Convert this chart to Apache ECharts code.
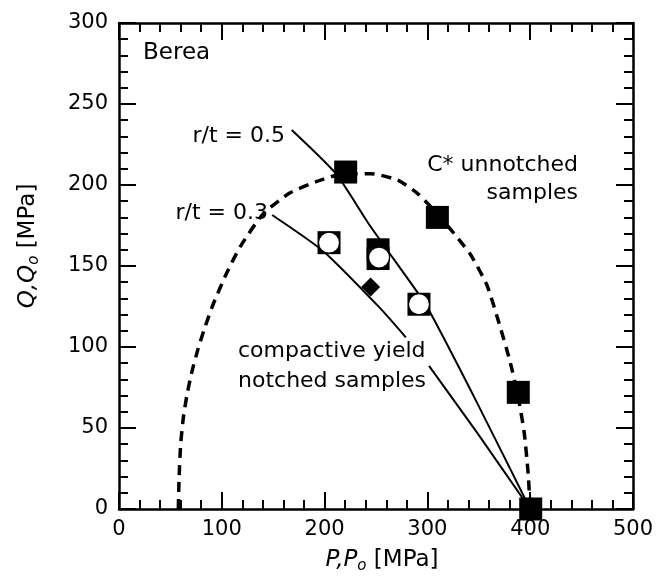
<!DOCTYPE html>
<html>
<head>
<meta charset="utf-8">
<script src="https://cdn.jsdelivr.net/npm/echarts@6/dist/echarts.min.js"></script>
<style>
  html, body { margin: 0; padding: 0; background: #fff; }
  #main { width: 668px; height: 582px; }
</style>
</head>
<body>
<div id="main"></div>
<script>
// C* envelope for unnotched samples (dashed)
var cStarCurve = [
  [57.7, 0], [58.5, 20], [60, 40], [62.5, 56], [66, 70], [71, 85],
  [77, 99], [84, 113], [92, 127], [105, 146], [118, 162], [140, 182],
  [166, 195], [196, 203], [220, 207], [245, 207], [271, 203], [290, 195],
  [310, 182], [326, 170], [342, 157], [358, 138], [370, 114], [380, 92],
  [388, 70], [394, 48], [398, 22], [400, 0]
];
// compactive yield lines, notched samples
var rt05Line = [[168, 234], [211, 207], [244, 175], [290, 134], [303, 121], [348, 66], [400, 0]];
var rt03Upper = [[149, 181.5], [199, 159], [254, 124], [279, 106]];
var rt03Lower = [[301.6, 88.3], [348.5, 47], [400, 0]];

// data points
var unnotched = [[220.5, 208], [309.7, 180], [388.4, 72], [400.5, 0]];
var notchedSquares = [[204.3, 164.4], [252, 160], [252, 154.6], [291.8, 126.4]];
var notchedCircles = [[204.3, 164.4], [253, 155.2], [291.8, 126.4]];
var diamondPts = [[244.8, 137]];

var xTicks = [0, 100, 200, 300, 400, 500];
var yTicks = [0, 50, 100, 150, 200, 250, 300];

var FONT = 'DejaVu Sans';
var myChart = echarts.init(document.getElementById('main'));

function makeAxis(type, pos, ticks, showLabel) {
  return {
    type: 'value',
    position: pos,
    min: ticks[0],
    max: ticks[ticks.length - 1],
    interval: ticks[1] - ticks[0],
    axisLine: { show: true, onZero: false, lineStyle: { color: '#000', width: 2.5 } },
    axisTick: { show: true, inside: true, length: 17, lineStyle: { color: '#000', width: 2 } },
    minorTick: { show: true, splitNumber: 5, length: 9, lineStyle: { color: '#000', width: 2 } },
    splitLine: { show: false },
    minorSplitLine: { show: false },
    axisLabel: {
      show: showLabel,
      color: '#000',
      fontFamily: FONT,
      fontSize: 21,
      margin: type === 'x' ? 10 : 11
    }
  };
}

var subRich = {
  i: { fontFamily: FONT, fontSize: 23, fontStyle: 'italic', color: '#000', lineHeight: 28 },
  s: { fontFamily: FONT, fontSize: 15, fontStyle: 'italic', color: '#000', lineHeight: 15, verticalAlign: 'bottom' },
  n: { fontFamily: FONT, fontSize: 23, color: '#000', lineHeight: 28 }
};

function note(text, x, y, align, size) {
  return {
    type: 'text',
    x: x,
    y: y,
    z: 100,
    style: {
      text: text,
      fill: '#000',
      font: (size || 22) + 'px "' + FONT + '"',
      align: align,
      verticalAlign: 'middle'
    }
  };
}

var option = {
  animation: false,
  backgroundColor: '#fff',
  grid: {
    left: 119, right: 35, top: 23, bottom: 73,
    containLabel: false,
    outerBoundsMode: 'none'
  },
  xAxis: [makeAxis('x', 'bottom', xTicks, true), makeAxis('x', 'top', xTicks, false)],
  yAxis: [makeAxis('y', 'left', yTicks, true), makeAxis('y', 'right', yTicks, false)],
  graphic: [
    note('Berea', 143, 53, 'left', 23),
    note('r/t = 0.5', 285, 136, 'right'),
    note('r/t = 0.3', 268, 213, 'right'),
    note('C* unnotched', 578, 165, 'right'),
    note('samples', 578, 193, 'right'),
    note('compactive yield', 238, 351, 'left'),
    note('notched samples', 238, 381, 'left'),
    {
      type: 'text', x: 382, y: 560, z: 100,
      style: {
        text: '{i|P,P}{s|o}{n| [MPa]}',
        rich: subRich, align: 'center', verticalAlign: 'middle'
      }
    },
    {
      type: 'text', x: 28, y: 246, z: 100, rotation: Math.PI / 2,
      style: {
        text: '{i|Q,Q}{s|o}{n| [MPa]}',
        rich: subRich, align: 'center', verticalAlign: 'middle'
      }
    }
  ],
  series: [
    {
      name: 'C*', type: 'line', data: cStarCurve, smooth: 0.2, symbol: 'none',
      lineStyle: { color: '#000', width: 3.5, type: [10, 7] }, z: 2
    },
    {
      name: 'r/t = 0.5', type: 'line', data: rt05Line, smooth: 0.2, symbol: 'none',
      lineStyle: { color: '#000', width: 2 }, z: 2
    },
    {
      name: 'r/t = 0.3 a', type: 'line', data: rt03Upper, smooth: 0.2, symbol: 'none',
      lineStyle: { color: '#000', width: 2 }, z: 2
    },
    {
      name: 'r/t = 0.3 b', type: 'line', data: rt03Lower, symbol: 'none',
      lineStyle: { color: '#000', width: 2 }, z: 2
    },
    {
      name: 'unnotched', type: 'scatter', data: unnotched, symbol: 'rect', symbolSize: 23,
      itemStyle: { color: '#000', opacity: 1 }, z: 3
    },
    {
      name: 'notched', type: 'scatter', data: notchedSquares, symbol: 'rect', symbolSize: 23,
      itemStyle: { color: '#000', opacity: 1 }, z: 3
    },
    {
      name: 'notched circles', type: 'scatter', data: notchedCircles, symbol: 'circle', symbolSize: 21,
      itemStyle: { color: '#fff', borderColor: '#000', borderWidth: 1.2, opacity: 1 }, z: 4
    },
    {
      name: 'diamond', type: 'scatter', data: diamondPts, symbol: 'diamond', symbolSize: [19, 19],
      itemStyle: { color: '#000', opacity: 1 }, z: 3
    }
  ]
};

myChart.setOption(option);
</script>
</body>
</html>
